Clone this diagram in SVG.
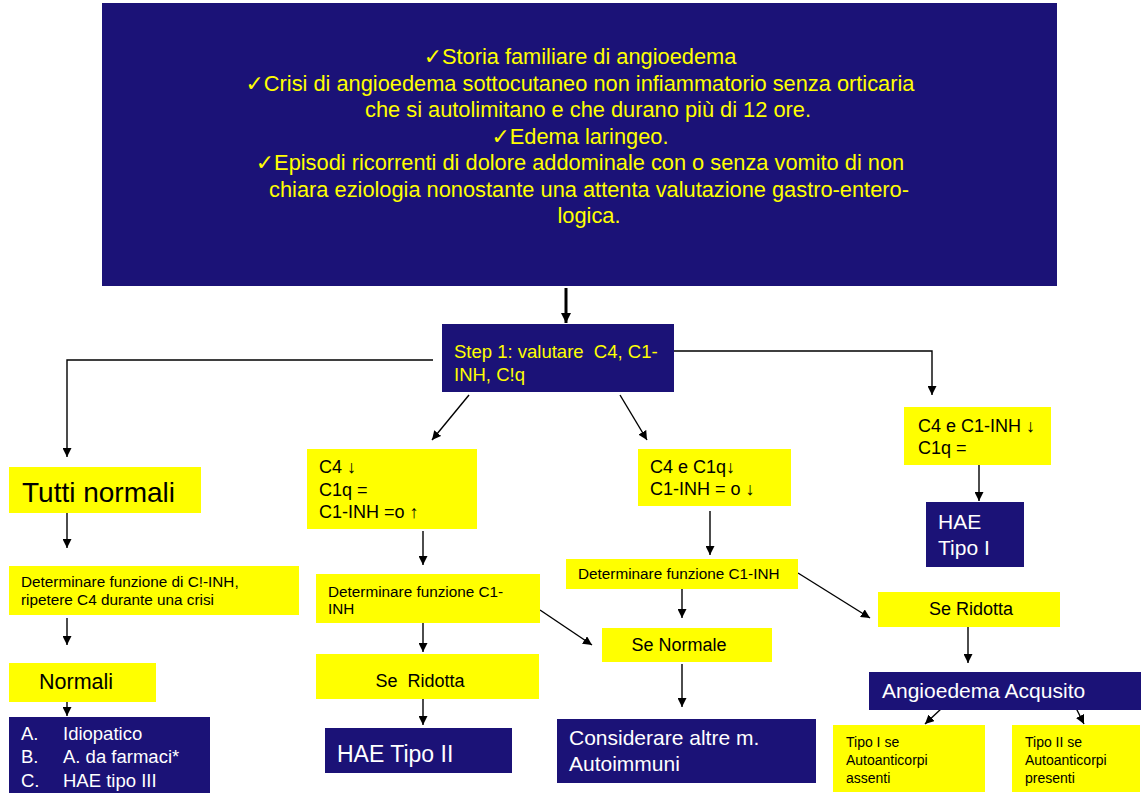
<svg xmlns="http://www.w3.org/2000/svg" width="1142" height="794" viewBox="0 0 1142 794">
<style>
text{font-family:"Liberation Sans",Arial,"DejaVu Sans",sans-serif;white-space:pre}
.navy{fill:#1B1277}
.yel{fill:#FFFF00}
.ty{fill:#FFFF00}
.tk{fill:#000}
.tw{fill:#FFFFFF}
.c{stroke:#000;stroke-width:1.4;fill:none;marker-end:url(#ah)}
.mid{text-anchor:middle}
</style>
<defs>
<marker id="ah" viewBox="0 0 10 10" refX="10" refY="5" markerUnits="userSpaceOnUse" markerWidth="9" markerHeight="9" orient="auto"><path d="M0,0 L10,5 L0,10 z" fill="#000"/></marker>
<marker id="ahb" viewBox="0 0 10 10" refX="10" refY="5" markerUnits="userSpaceOnUse" markerWidth="11" markerHeight="10" orient="auto"><path d="M0,0 L10,5 L0,10 z" fill="#000"/></marker>
</defs>
<rect width="1142" height="794" fill="#fff"/>

<g id="connectors">
<line x1="566" y1="288" x2="566" y2="323" stroke="#000" stroke-width="3" marker-end="url(#ahb)"/>
<polyline class="c" points="433,360 67,360 67,457"/>
<polyline class="c" points="674,351 932,351 932,395"/>
<line class="c" x1="469" y1="395" x2="432" y2="440"/>
<line class="c" x1="620" y1="395" x2="647" y2="440"/>
<line class="c" x1="979" y1="465" x2="979" y2="501"/>
<line class="c" x1="67" y1="513" x2="67" y2="548"/>
<line class="c" x1="67" y1="618" x2="67" y2="645"/>
<line class="c" x1="67" y1="702" x2="67" y2="716"/>
<line class="c" x1="423" y1="531" x2="423" y2="565"/>
<line class="c" x1="423" y1="618" x2="423" y2="652"/>
<line class="c" x1="423" y1="699" x2="423" y2="725"/>
<line class="c" x1="710" y1="511" x2="710" y2="555"/>
<line class="c" x1="682" y1="584" x2="682" y2="618"/>
<line class="c" x1="540" y1="610" x2="592" y2="645"/>
<line class="c" x1="798" y1="573" x2="870" y2="618"/>
<line class="c" x1="682" y1="664" x2="682" y2="707"/>
<line class="c" x1="968" y1="627" x2="968" y2="663"/>
<line class="c" x1="942" y1="708" x2="925" y2="724"/>
<line class="c" x1="1076" y1="708" x2="1084" y2="724"/>
</g>

<g id="criteri">
<rect class="navy" x="102" y="3" width="955" height="283"/>
<g class="ty mid" font-size="21.8">
<text x="580" y="64">✓Storia familiare di angioedema</text>
<text x="580" y="91">✓Crisi di angioedema sottocutaneo non infiammatorio senza orticaria</text>
<text x="588" y="117">che si autolimitano e che durano più di 12 ore.</text>
<text x="580" y="144">✓Edema laringeo.</text>
<text x="580" y="170">✓Episodi ricorrenti di dolore addominale con o senza vomito di non</text>
<text x="589" y="197">chiara eziologia nonostante una attenta valutazione gastro-entero-</text>
<text x="589" y="223">logica.</text>
</g>
</g>

<g id="step1">
<rect class="navy" x="442" y="324" width="232" height="68"/>
<text class="ty" x="454" y="358" font-size="18.5">Step 1: valutare  C4, C1-</text>
<text class="ty" x="454" y="381" font-size="18.5">INH, C!q</text>
</g>

<g id="tutti-normali">
<rect class="yel" x="9" y="467" width="192" height="46"/>
<text class="tk" x="22" y="502" font-size="28">Tutti normali</text>
</g>

<g id="c4-giu">
<rect class="yel" x="307" y="449" width="170" height="80"/>
<text class="tk" x="319" y="473" font-size="18">C4 ↓</text>
<text class="tk" x="319" y="496" font-size="18">C1q =</text>
<text class="tk" x="319" y="518" font-size="18">C1-INH =o ↑</text>
</g>

<g id="c4-c1q">
<rect class="yel" x="638" y="449" width="153" height="57"/>
<text class="tk" x="650" y="473" font-size="18">C4 e C1q↓</text>
<text class="tk" x="650" y="495" font-size="18">C1-INH = o ↓</text>
</g>

<g id="c4-c1inh">
<rect class="yel" x="904" y="407" width="147" height="58"/>
<text class="tk" x="918" y="432" font-size="18">C4 e C1-INH ↓</text>
<text class="tk" x="918" y="454" font-size="18">C1q =</text>
</g>

<g id="hae-tipo1">
<rect class="navy" x="926" y="502" width="98" height="65"/>
<text class="tw" x="938" y="529" font-size="21">HAE</text>
<text class="tw" x="938" y="555" font-size="21">Tipo I</text>
</g>

<g id="det-sx">
<rect class="yel" x="9" y="566" width="290" height="49"/>
<text class="tk" x="21" y="587" font-size="15.3">Determinare funzione di C!-INH,</text>
<text class="tk" x="21" y="605" font-size="15.3">ripetere C4 durante una crisi</text>
</g>

<g id="normali">
<rect class="yel" x="9" y="663" width="147" height="39"/>
<text class="tk" x="39" y="689" font-size="21.5">Normali</text>
</g>

<g id="lista">
<rect class="navy" x="9" y="717" width="201" height="76"/>
<text class="tw" x="21" y="740" font-size="18.5">A.</text>
<text class="tw" x="63" y="740" font-size="18.5">Idiopatico</text>
<text class="tw" x="21" y="763" font-size="18.5">B.</text>
<text class="tw" x="63" y="763" font-size="18.5">A. da farmaci*</text>
<text class="tw" x="21" y="787" font-size="18.5">C.</text>
<text class="tw" x="63" y="787" font-size="18.5">HAE tipo III</text>
</g>

<g id="det-mid">
<rect class="yel" x="316" y="574" width="224" height="49"/>
<text class="tk" x="328" y="597" font-size="15.3">Determinare funzione C1-</text>
<text class="tk" x="328" y="614" font-size="15.3">INH</text>
</g>

<g id="ridotta-mid">
<rect class="yel" x="316" y="654" width="223" height="45"/>
<text class="tk mid" x="420" y="687" font-size="18">Se  Ridotta</text>
</g>

<g id="hae-tipo2">
<rect class="navy" x="325" y="728" width="187" height="45"/>
<text class="tw" x="337" y="762" font-size="23">HAE Tipo II</text>
</g>

<g id="det-dx">
<rect class="yel" x="566" y="559" width="232" height="30"/>
<text class="tk" x="578" y="579" font-size="15.3">Determinare funzione C1-INH</text>
</g>

<g id="se-normale">
<rect class="yel" x="602" y="628" width="170" height="34"/>
<text class="tk mid" x="679" y="651" font-size="18">Se Normale</text>
</g>

<g id="considerare">
<rect class="navy" x="557" y="719" width="259" height="64"/>
<text class="tw" x="569" y="745" font-size="21">Considerare altre m.</text>
<text class="tw" x="569" y="771" font-size="21">Autoimmuni</text>
</g>

<g id="ridotta-dx">
<rect class="yel" x="878" y="592" width="182" height="35"/>
<text class="tk mid" x="971" y="615" font-size="18">Se Ridotta</text>
</g>

<g id="acquisito">
<rect class="navy" x="869" y="672" width="272" height="38"/>
<text class="tw" x="882" y="698" font-size="21">Angioedema Acqusito</text>
</g>

<g id="tipo1-se">
<rect class="yel" x="833" y="725" width="152" height="67"/>
<text class="tk" x="846" y="747" font-size="14">Tipo I se</text>
<text class="tk" x="846" y="765" font-size="14">Autoanticorpi</text>
<text class="tk" x="846" y="783" font-size="14">assenti</text>
</g>

<g id="tipo2-se">
<rect class="yel" x="1012" y="725" width="128" height="67"/>
<text class="tk" x="1025" y="747" font-size="14">Tipo II se</text>
<text class="tk" x="1025" y="765" font-size="14">Autoanticorpi</text>
<text class="tk" x="1025" y="783" font-size="14">presenti</text>
</g>
</svg>
